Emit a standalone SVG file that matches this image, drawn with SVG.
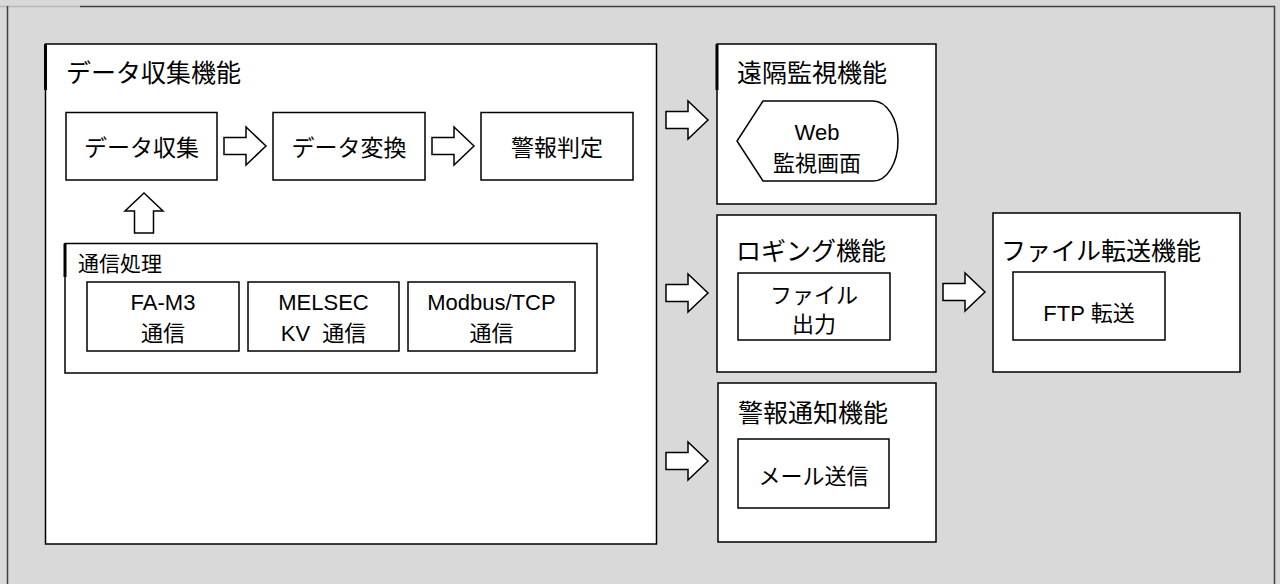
<svg xmlns="http://www.w3.org/2000/svg" xmlns:xlink="http://www.w3.org/1999/xlink" width="1280" height="584" viewBox="0 0 1280 584">
<style>
.box{fill:#fff;stroke:#000;stroke-width:1.5}
.t{font-family:"Liberation Sans","Noto Sans CJK JP",sans-serif;fill:#000}
.title{font-size:25px}
.lbl{font-size:22px;text-anchor:middle}
.lbl23{font-size:23px;text-anchor:middle}
.sub{font-size:21px}
.arrow{fill:#fff;stroke:#000;stroke-width:1.5;stroke-linejoin:miter}
.thick{stroke:#000;stroke-width:3}
</style>
<defs>
<path id="rarrow" d="M0,-8.5 H22 V-19 L42,0 L22,19 V8.5 H0 Z"/>
<path id="uarrow" d="M-9.5,0 V-22 H-19 L0,-40 L19,-22 H9.5 V0 Z"/>
</defs>
<rect width="1280" height="584" fill="#d9d9d9"/>
<g id="frame">
<line x1="0" y1="6.5" x2="80" y2="6.5" stroke="#b8b8b8" stroke-width="1.5"/>
<polyline points="80,6.5 1274.5,6.5 1274.5,584" fill="none" stroke="#404040" stroke-width="1.5"/>
<line x1="7.5" y1="6" x2="7.5" y2="584" stroke="#404040" stroke-width="1.5"/>
</g>
<g id="data-collection-func">
<rect class="box" x="45.5" y="44" width="611" height="500"/>
<line class="thick" x1="45.5" y1="44" x2="45.5" y2="90"/>
<text class="t title" x="66" y="82">データ収集機能</text>
</g>
<g id="data-collect">
<rect class="box" x="66" y="112.5" width="151" height="67.5"/>
<text class="t lbl23" x="141.5" y="156">データ収集</text>
</g>
<g id="data-convert">
<rect class="box" x="273" y="112.5" width="152" height="67.5"/>
<text class="t lbl23" x="349" y="156">データ変換</text>
</g>
<g id="alarm-judge">
<rect class="box" x="481" y="112.5" width="152" height="67.5"/>
<text class="t lbl23" x="557" y="156">警報判定</text>
</g>
<g id="comm">
<rect class="box" x="65" y="243.5" width="532" height="129.5"/>
<line class="thick" x1="65" y1="243.5" x2="65" y2="277"/>
<text class="t sub" x="78" y="271">通信処理</text>
</g>
<g id="fa-m3">
<rect class="box" x="87" y="282" width="152" height="69"/>
<text class="t lbl" x="163" y="310">FA-M3</text>
<text class="t lbl" x="163" y="341">通信</text>
</g>
<g id="melsec">
<rect class="box" x="248" y="282" width="151" height="69"/>
<text class="t lbl" x="323.5" y="310">MELSEC</text>
<text class="t lbl" x="323.5" y="341" style="white-space:pre">KV  通信</text>
</g>
<g id="modbus">
<rect class="box" x="408" y="282" width="167" height="69"/>
<text class="t lbl" x="491.5" y="310">Modbus/TCP</text>
<text class="t lbl" x="491.5" y="341">通信</text>
</g>
<g id="remote-monitor-func">
<rect class="box" x="717" y="44" width="219" height="160"/>
<line class="thick" x1="717" y1="44" x2="717" y2="90"/>
<text class="t title" x="737" y="82">遠隔監視機能</text>
</g>
<g id="web-screen">
<path class="box" d="M763,101 H873 A25,40 0 0 1 873,181 H763 L737,141 Z"/>
<text class="t lbl" x="817" y="140">Web</text>
<text class="t lbl" x="817" y="171">監視画面</text>
</g>
<g id="logging-func">
<rect class="box" x="717" y="215" width="219" height="157"/>
<text class="t title" x="736" y="260">ロギング機能</text>
</g>
<g id="file-output">
<rect class="box" x="738" y="273" width="152" height="67"/>
<text class="t lbl" x="814" y="303">ファイル</text>
<text class="t lbl" x="814" y="332">出力</text>
</g>
<g id="file-transfer-func">
<rect class="box" x="993" y="213" width="247" height="159"/>
<text class="t title" x="1001" y="260">ファイル転送機能</text>
</g>
<g id="ftp">
<rect class="box" x="1013" y="272" width="152" height="68"/>
<text class="t lbl" x="1089" y="321">FTP 転送</text>
</g>
<g id="alarm-notify-func">
<rect class="box" x="718" y="383" width="218" height="159"/>
<text class="t title" x="738" y="422">警報通知機能</text>
</g>
<g id="mail">
<rect class="box" x="738" y="439" width="151" height="69"/>
<text class="t lbl" x="813.5" y="484">メール送信</text>
</g>
<g id="connectors">
<use class="arrow" xlink:href="#rarrow" x="224" y="146"/>
<use class="arrow" xlink:href="#rarrow" x="432" y="146"/>
<use class="arrow" xlink:href="#uarrow" x="144" y="233"/>
<use class="arrow" xlink:href="#rarrow" x="666" y="120"/>
<use class="arrow" xlink:href="#rarrow" x="666" y="293"/>
<use class="arrow" xlink:href="#rarrow" x="666" y="461"/>
<use class="arrow" xlink:href="#rarrow" x="943" y="292"/>
</g>
</svg>
